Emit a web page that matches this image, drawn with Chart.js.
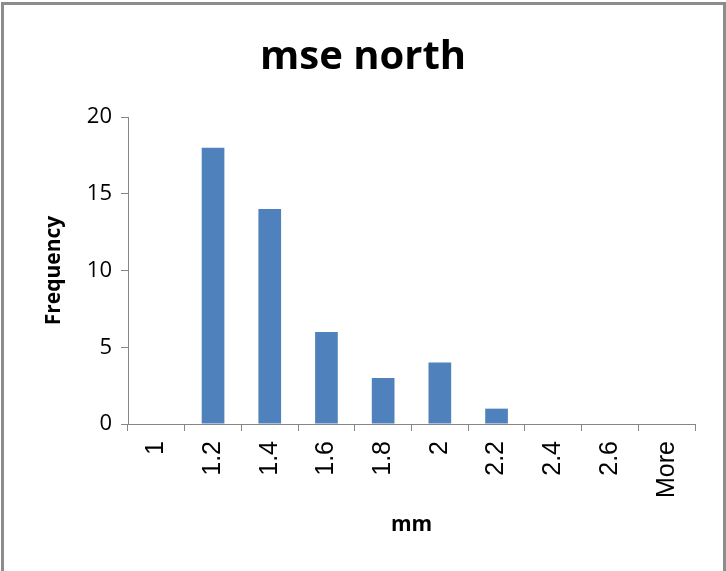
<!DOCTYPE html>
<html>
<head>
<meta charset="utf-8">
<title>mse north</title>
<script src="https://cdn.jsdelivr.net/npm/chart.js@4/dist/chart.umd.min.js"></script>
<style>
    html, body { margin: 0; padding: 0; background: #fff; overflow: hidden; }
    #wrap { position: relative; width: 726px; height: 571px; }
    #frame {
        position: absolute; left: 1px; top: 2px;
        width: 719px; height: 600px;
        border: 3px solid #8c8c8c; border-bottom: none;
        pointer-events: none;
    }
    canvas { position: absolute; left: 0; top: 0; }
</style>
</head>
<body>
<div id="wrap">
    <canvas id="chartHist" width="726" height="571"></canvas>
    <div id="frame"></div>
</div>
<script>
/* ---------- дані гістограми ---------- */
const binLabels = ["1", "1.2", "1.4", "1.6", "1.8", "2", "2.2", "2.4", "2.6", "More"];
const frequencies = [0, 18, 14, 6, 3, 4, 1, 0, 0, 0];
const yMax = 20;
const yStep = 5;

const AXIS_GREY = "#868686";

/* ---------- побудова графіка ---------- */
const ctx = document.getElementById("chartHist");

new Chart(ctx, {
    type: "bar",
    data: {
        labels: binLabels,
        datasets: [{
            label: "Frequency",
            data: frequencies,
            backgroundColor: "#4f81bd",
            categoryPercentage: 1,
            barPercentage: 0.4
        }]
    },
    options: {
        responsive: false,
        animation: false,
        layout: { padding: 0 },
        plugins: {
            legend: { display: false },
            tooltip: { enabled: false },
            title: {
                display: true,
                text: "mse north",
                color: "#000",
                font: { family: "'Open Sans'", size: 40, weight: "bold", lineHeight: 1.2 },
                padding: { top: 34, bottom: 35 }
            }
        },
        scales: {
            x: {
                offset: true,
                grid: {
                    offset: true,
                    drawOnChartArea: false,
                    drawTicks: true,
                    tickLength: 7,
                    color: AXIS_GREY
                },
                border: { display: true, color: AXIS_GREY, width: 1 },
                ticks: {
                    color: "#000",
                    minRotation: 90,
                    maxRotation: 90,
                    padding: 10,
                    autoSkip: false,
                    font: { family: "'Liberation Sans'", size: 25 }
                },
                title: {
                    display: true,
                    text: "mm",
                    color: "#000",
                    font: { family: "'Open Sans'", size: 21, weight: "bold", lineHeight: 1.2 },
                    padding: { top: 0, bottom: 33 }
                },
                afterFit: scale => { scale.height = 147; }
            },
            y: {
                min: 0,
                max: yMax,
                grid: {
                    drawOnChartArea: false,
                    drawTicks: true,
                    tickLength: 7,
                    color: AXIS_GREY
                },
                border: { display: true, color: AXIS_GREY, width: 1 },
                ticks: {
                    stepSize: yStep,
                    color: "#000",
                    padding: 9,
                    font: { family: "'Open Sans'", size: 22 }
                },
                title: {
                    display: true,
                    text: "Frequency",
                    color: "#000",
                    font: { family: "'Open Sans'", size: 21, weight: "bold", lineHeight: 1.2 },
                    padding: { top: 41, bottom: 0 }
                },
                afterFit: scale => { scale.width = 128; }
            },
            // порожня вісь справа — лише відступ, щоб заголовок був по центру
            spacer: {
                type: "linear",
                position: "right",
                display: true,
                grid: { display: false },
                border: { display: false },
                ticks: { display: false },
                afterFit: scale => { scale.width = 31; }
            }
        }
    }
});
</script>
</body>
</html>
